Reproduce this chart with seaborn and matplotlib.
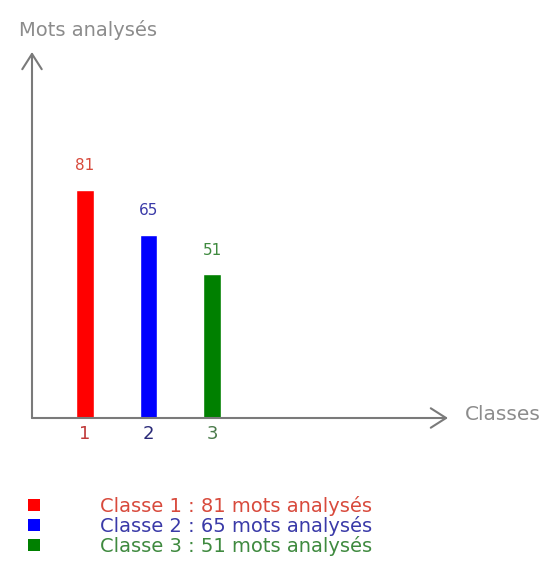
import matplotlib
matplotlib.use("Agg")
import matplotlib.pyplot as plt
import seaborn as sns
from matplotlib.patches import Patch

# Données
classes = ["1", "2", "3"]
mots = [81, 65, 51]
couleurs_barres = ["#ff0000", "#0000ff", "#008000"]
couleurs_textes = ["#d84a3c", "#3a3aa8", "#3f8a3f"]
couleurs_ticks = ["#c03a3a", "#2a2a78", "#4a7a4a"]
titre_y = "Mots analysés"
titre_x = "Classes"

sns.set_theme(style="white")
plt.rcParams['font.family'] = ['DejaVu Sans']

W, H = 548, 584
fig = plt.figure(figsize=(W / 100, H / 100), dpi=100)

# axes : x de 32 à 448 px, y de 52 à 418 px
ax = fig.add_axes([32 / W, 1 - 418 / H, (448 - 32) / W, (418 - 52) / H])
ax.patch.set_alpha(0)

sns.barplot(x=classes, y=mots, hue=classes, palette=couleurs_barres,
            width=0.27, saturation=1, legend=False, ax=ax)

for cont, c in zip(ax.containers, couleurs_textes):
    ax.bar_label(cont, padding=12, color=c, fontsize=11)

ax.set_xlim(-0.835, 5.717)
ax.set_ylim(0, 130)
ax.set_yticks([])
ax.set_xlabel("")
ax.set_ylabel("")
ax.tick_params(axis="x", length=0, pad=5, labelsize=13)
for lab, c in zip(ax.get_xticklabels(), couleurs_ticks):
    lab.set_color(c)
for s in ax.spines.values():
    s.set_visible(False)

# axes fléchés
gris = "#7a7a7a"
fleche = dict(arrowstyle="->, head_length=11, head_width=7", color=gris,
              lw=1.5, shrinkA=0, shrinkB=0, mutation_scale=1)
ax.annotate("", xy=(0, 1), xytext=(0, 0), xycoords="axes fraction",
            textcoords="axes fraction", arrowprops=fleche)
ax.annotate("", xy=(1, 0), xytext=(0, 0), xycoords="axes fraction",
            textcoords="axes fraction", arrowprops=fleche)

fig.text(19 / W, 1 - 30 / H, titre_y, color="#8c8c8c", fontsize=14, va="center", ha="left")
fig.text(465 / W, 1 - 414 / H, titre_x, color="#8c8c8c", fontsize=14.5, va="center", ha="left")

# légende
handles = [Patch(facecolor=c, edgecolor="none") for c in couleurs_barres]
labels = [f"Classe {k} : {v} mots analysés" for k, v in zip(classes, mots)]
fig.legend(handles, labels, loc="upper left", bbox_to_anchor=(28 / W, 1 - 496 / H),
           frameon=False, fontsize=14, labelcolor=couleurs_textes,
           handlelength=0.62, handleheight=0.62, handletextpad=3.1,
           labelspacing=0.0, borderpad=0, borderaxespad=0)

fig.savefig("out.png", dpi=100)
